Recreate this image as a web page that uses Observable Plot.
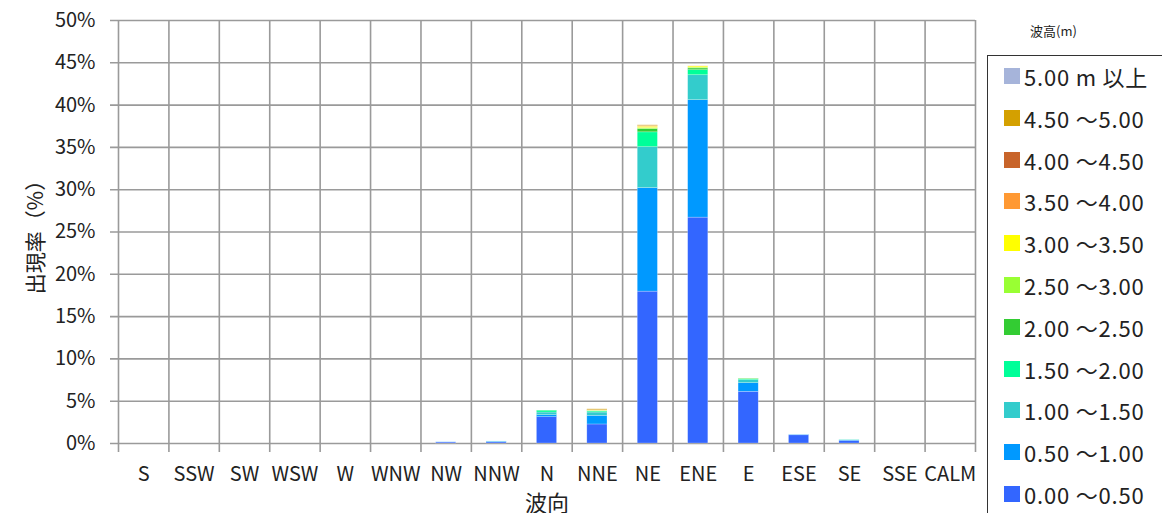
<!DOCTYPE html>
<html>
<head>
<meta charset="utf-8">
<script src="https://cdn.jsdelivr.net/npm/d3@7"></script>
<script src="https://cdn.jsdelivr.net/npm/@observablehq/plot@0.6"></script>
<style>
  html, body { margin: 0; padding: 0; background: #fff; }
  #wrap { position: relative; width: 1162px; height: 513px; overflow: hidden; font-family: "Noto Sans CJK JP", "Noto Sans", sans-serif; color: #222; }
  #legendTitle { position: absolute; left: 1030px; top: 21px; font-size: 13px; }
  #legend { position: absolute; left: 987px; top: 55px; width: 200px; height: 480px; border: 1.5px solid #333; box-sizing: border-box; }
  .item { position: absolute; left: 16px; display: flex; align-items: center; font-size: 22px; letter-spacing: 0.8px; white-space: nowrap; }
  .sw { width: 16px; height: 16px; margin-right: 4px; }
</style>
</head>
<body>
<div id="wrap">
  <div id="chart"></div>
  <div id="legendTitle">波高(m)</div>
  <div id="legend"></div>
</div>
<script>
const categories = ["S","SSW","SW","WSW","W","WNW","NW","NNW","N","NNE","NE","ENE","E","ESE","SE","SSE","CALM"];
const seriesLabels = ["0.00 ～0.50","0.50 ～1.00","1.00 ～1.50","1.50 ～2.00","2.00 ～2.50","2.50 ～3.00","3.00 ～3.50","3.50 ～4.00","4.00 ～4.50","4.50 ～5.00","5.00 m 以上"];
const seriesColors = ["#3366FF","#0099FF","#33CCCC","#00FF99","#33CC33","#99FF33","#FFFF00","#FF9933","#C8642A","#D4A000","#A6B4DA"];
//                 S  SSW SW WSW W  WNW NW    NNW   N     NNE   NE     ENE    E     ESE   SE    SSE CALM
const h000_050 = [0, 0, 0, 0, 0, 0, 0.12, 0.14, 3.11, 2.25, 17.95, 26.70, 6.11, 0.97, 0.30, 0, 0];
const h050_100 = [0, 0, 0, 0, 0, 0, 0.02, 0.08, 0.24, 1.02, 12.24, 13.88, 1.02, 0.05, 0.08, 0, 0];
const h100_150 = [0, 0, 0, 0, 0, 0, 0,    0.02, 0.31, 0.39,  4.84,  2.95, 0.36, 0,    0.03, 0, 0];
const h150_200 = [0, 0, 0, 0, 0, 0, 0,    0,    0.22, 0.12,  1.75,  0.60, 0.12, 0,    0.02, 0, 0];
const h200_250 = [0, 0, 0, 0, 0, 0, 0,    0,    0.02, 0.06,  0.39,  0.20, 0.05, 0,    0,    0, 0];
const h250_300 = [0, 0, 0, 0, 0, 0, 0,    0,    0,    0.03,  0.12,  0.10, 0.02, 0,    0,    0, 0];
const h300_350 = [0, 0, 0, 0, 0, 0, 0,    0,    0,    0.02,  0.15,  0.13, 0,    0,    0,    0, 0];
const h350_400 = [0, 0, 0, 0, 0, 0, 0,    0,    0,    0.02,  0.06,  0.02, 0,    0,    0,    0, 0];
const h400_450 = [0, 0, 0, 0, 0, 0, 0,    0,    0,    0.03,  0.03,  0,    0,    0,    0,    0, 0];
const h450_500 = [0, 0, 0, 0, 0, 0, 0,    0,    0,    0.10,  0.08,  0,    0,    0,    0,    0, 0];
const h500_up  = [0, 0, 0, 0, 0, 0, 0,    0,    0,    0,     0,     0,    0,    0,    0,    0, 0];
const yTicks = [0, 5, 10, 15, 20, 25, 30, 35, 40, 45, 50];

const series = [h000_050,h050_100,h100_150,h150_200,h200_250,h250_300,h300_350,h350_400,h400_450,h450_500,h500_up];
const rows = [];
series.forEach((vals, si) => vals.forEach((v, ci) => rows.push({dir: categories[ci], band: seriesLabels[si], order: si, value: v})));

const W = 1162, H = 513, mL = 118, mR = 187, mT = 20, mB = 70;
const step = (W - mL - mR) / categories.length;
const grid = "#9a9a9a";

const chart = Plot.plot({
  width: W, height: H,
  marginLeft: mL, marginRight: mR, marginTop: mT, marginBottom: mB,
  style: {fontFamily: "'Noto Sans CJK JP', 'Noto Sans', sans-serif", fontSize: "20px", color: "#222", background: "#fff"},
  x: {domain: categories, paddingInner: 0.6, paddingOuter: 0.3, round: false},
  y: {domain: [0, 50]},
  color: {domain: seriesLabels, range: seriesColors},
  marks: [
    Plot.ruleY(yTicks, {y: d => d, stroke: grid, strokeWidth: 1.6, insetLeft: -8}),
    Plot.ruleX(categories, {x: d => d, dx: -step / 2, stroke: grid, strokeWidth: 1.6, insetBottom: -9}),
    Plot.ruleX(categories.slice(-1), {x: d => d, dx: step / 2, stroke: grid, strokeWidth: 1.6, insetBottom: -9}),
    Plot.barY(rows, Plot.stackY({order: "order"}, {x: "dir", y: "value", fill: "band", z: "band", stroke: "#ffffff", strokeOpacity: 0.4, strokeWidth: 0.6})),
    Plot.axisY({ticks: yTicks, tickFormat: d => d + "%", tickSize: 0, tickPadding: 23, fontSize: 20, label: null}),
    Plot.axisY({ticks: [], label: "出現率（%）", labelAnchor: "center", labelArrow: "none", labelOffset: 90, fontSize: 21}),
    Plot.axisX({tickSize: 0, tickPadding: 23, fontSize: 20, label: null}),
    Plot.axisX({ticks: [], label: "波向", labelAnchor: "center", labelArrow: "none", labelOffset: 67, fontSize: 22})
  ]
});
document.getElementById("chart").appendChild(chart);

const legend = document.getElementById("legend");
const legendOrder = seriesLabels.map((l, i) => i).reverse();
legendOrder.forEach((si, k) => {
  const it = document.createElement("div");
  it.className = "item";
  it.style.top = (4 + k * 41.8) + "px";
  const sw = document.createElement("span");
  sw.className = "sw";
  sw.style.background = seriesColors[si];
  const tx = document.createElement("span");
  tx.textContent = seriesLabels[si];
  it.appendChild(sw); it.appendChild(tx);
  legend.appendChild(it);
});
</script>
</body>
</html>
